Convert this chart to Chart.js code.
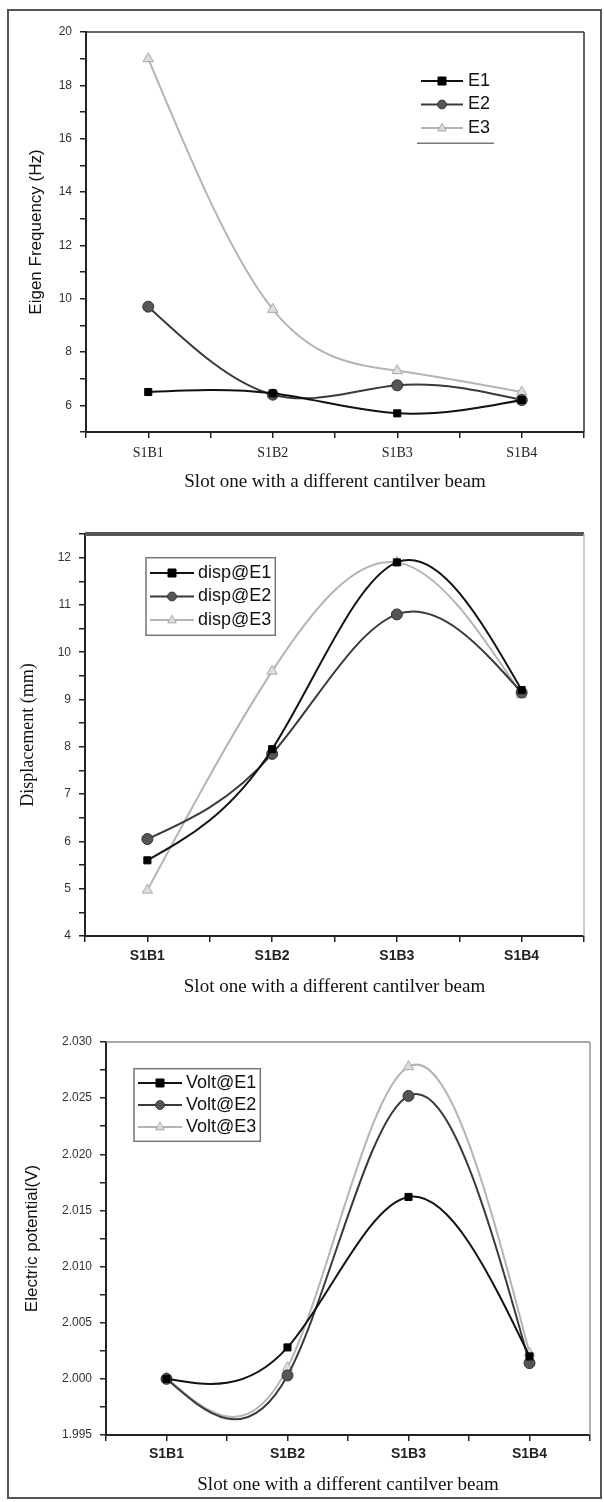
<!DOCTYPE html>
<html>
<head>
<meta charset="utf-8">
<script src="https://cdn.jsdelivr.net/npm/chart.js@4.4.1/dist/chart.umd.min.js"></script>
<style>
body { margin: 0; background: #fff; }
#page { position: relative; width: 604px; height: 1502px; overflow: hidden; }
#frame { position: absolute; left: 7px; top: 9px; width: 591px; height: 1486px; border: 2px solid #555; }
canvas { position: absolute; left: 0; }
</style>
</head>
<body>
<div id="page">
  <div id="frame"></div>
  <canvas id="freq" width="604" height="500" style="top:0px"></canvas>
  <canvas id="disp" width="604" height="500" style="top:500px"></canvas>
  <canvas id="volt" width="604" height="502" style="top:1000px"></canvas>
</div>
<script>
// categories on the x axis
const slots = ['S1B1', 'S1B2', 'S1B3', 'S1B4'];

// eigen frequency (Hz)
const freqE1 = [6.5, 6.45, 5.7, 6.2];
const freqE2 = [9.7, 6.4, 6.75, 6.2];
const freqE3 = [19.0, 9.6, 7.3, 6.5];

// displacement (mm)
const dispE1 = [5.6, 7.95, 11.9, 9.2];
const dispE2 = [6.05, 7.85, 10.8, 9.15];
const dispE3 = [4.97, 9.6, 11.9, 9.1];

// electric potential (V)
const voltE1 = [2.0000, 2.0028, 2.0162, 2.0020];
const voltE2 = [2.0000, 2.0003, 2.0252, 2.0014];
const voltE3 = [2.0001, 2.0010, 2.0278, 2.0023];

const SANS = "'Liberation Sans', Arial, sans-serif";
const SERIF = "'Liberation Serif', 'Times New Roman', serif";

const styleE1 = { borderColor: '#111', borderWidth: 2, pointStyle: 'rect', pointRadius: 5,
    pointBackgroundColor: '#000', pointBorderColor: '#000', pointBorderWidth: 1 };
const styleE2 = { borderColor: '#3a3a3a', borderWidth: 2, pointStyle: 'circle', pointRadius: 5.5,
    pointBackgroundColor: '#555', pointBorderColor: '#333', pointBorderWidth: 1 };
const styleE3 = { borderColor: '#b4b4b4', borderWidth: 2, pointStyle: 'triangle', pointRadius: 6,
    pointBackgroundColor: '#dcdcdc', pointBorderColor: '#aaa', pointBorderWidth: 1 };

function series(label, values, style) {
    return Object.assign({ label: label, data: values.map((v, i) => ({ x: i + 1, y: v })) }, style);
}

function drawMarker(ctx, shape, x, y, r, fill, stroke) {
    ctx.beginPath();
    if (shape === 'rect') {
        ctx.rect(x - r, y - r, 2 * r, 2 * r);
    } else if (shape === 'circle') {
        ctx.arc(x, y, r, 0, Math.PI * 2);
    } else {
        ctx.moveTo(x, y - r);
        ctx.lineTo(x + r * 0.9, y + r * 0.6);
        ctx.lineTo(x - r * 0.9, y + r * 0.6);
        ctx.closePath();
    }
    ctx.fillStyle = fill;
    ctx.fill();
    ctx.lineWidth = 1;
    ctx.strokeStyle = stroke;
    ctx.stroke();
}

// Origin draws these as natural cubic splines; give the line element
// the matching bezier control points (computed from the scaled points)
function setSplinePoints(meta) {
    const pts = meta.data, line = meta.dataset;
    const n = pts.length - 1;
    if (!line || n < 2) return;
    const h = [], m = new Array(n + 1).fill(0);
    for (let i = 0; i < n; i++) h.push(pts[i + 1].x - pts[i].x);
    const a = [], b = [], c = [], r = [];
    for (let i = 1; i < n; i++) {
        a.push(h[i - 1]);
        b.push(2 * (h[i - 1] + h[i]));
        c.push(h[i]);
        r.push(6 * ((pts[i + 1].y - pts[i].y) / h[i] - (pts[i].y - pts[i - 1].y) / h[i - 1]));
    }
    for (let i = 1; i < b.length; i++) {
        const w = a[i] / b[i - 1];
        b[i] -= w * c[i - 1];
        r[i] -= w * r[i - 1];
    }
    for (let i = b.length - 1; i >= 0; i--) {
        m[i + 1] = (r[i] - c[i] * m[i + 2]) / b[i];
    }
    const slope = [];
    for (let i = 0; i < n; i++) {
        slope.push((pts[i + 1].y - pts[i].y) / h[i] - h[i] * (2 * m[i] + m[i + 1]) / 6);
    }
    slope.push((pts[n].y - pts[n - 1].y) / h[n - 1] + h[n - 1] * (m[n - 1] + 2 * m[n]) / 6);
    pts.forEach((p, i) => {
        const hb = i > 0 ? h[i - 1] / 3 : 0;
        const ha = i < n ? h[i] / 3 : 0;
        p.cp1x = p.x - hb;
        p.cp1y = p.y - slope[i] * hb;
        p.cp2x = p.x + ha;
        p.cp2y = p.y + slope[i] * ha;
    });
    line._pointsUpdated = true;
    line._path = undefined;
}

const naturalSpline = {
    id: 'naturalSpline',
    afterDatasetUpdate(chart, args) { setSplinePoints(args.meta); },
    beforeDatasetDraw(chart, args) { setSplinePoints(args.meta); }
};

// top and right edges of the plot box
const boxLines = {
    id: 'boxLines',
    afterDraw(chart, args, o) {
        const ctx = chart.ctx, a = chart.chartArea;
        ctx.save();
        ctx.strokeStyle = o.topColor;
        ctx.lineWidth = o.topWidth;
        ctx.beginPath();
        ctx.moveTo(a.left, a.top);
        ctx.lineTo(a.right, a.top);
        ctx.stroke();
        ctx.strokeStyle = o.rightColor;
        ctx.lineWidth = o.rightWidth;
        ctx.beginPath();
        ctx.moveTo(a.right, a.top);
        ctx.lineTo(a.right, a.bottom);
        ctx.stroke();
        ctx.restore();
    }
};

// legend drawn inside the plot: line with marker, then label
const lineLegend = {
    id: 'lineLegend',
    afterDraw(chart, args, o) {
        const ctx = chart.ctx;
        ctx.save();
        ctx.font = o.font;
        ctx.textBaseline = 'middle';
        let maxW = 0;
        chart.data.datasets.forEach((ds, i) => {
            const y = o.y + i * o.rowHeight;
            ctx.strokeStyle = ds.borderColor;
            ctx.lineWidth = 2;
            ctx.beginPath();
            ctx.moveTo(o.x, y);
            ctx.lineTo(o.x + o.lineLength, y);
            ctx.stroke();
            drawMarker(ctx, ds.pointStyle, o.x + o.lineLength / 2, y, ds.pointRadius * 0.8,
                ds.pointBackgroundColor, ds.pointBorderColor);
            ctx.fillStyle = '#111';
            ctx.fillText(ds.label, o.x + o.lineLength + o.gap, y);
            maxW = Math.max(maxW, ctx.measureText(ds.label).width);
        });
        const left = o.x - 4, right = o.x + o.lineLength + o.gap + maxW + 4;
        const top = o.y - o.rowHeight * 0.65, bottom = o.y + o.rowHeight * 2.65;
        ctx.strokeStyle = '#777';
        if (o.frame === 'box') {
            ctx.lineWidth = 1.5;
            ctx.strokeRect(left, top, right - left, bottom - top);
        } else if (o.frame === 'underline') {
            ctx.lineWidth = 1.5;
            ctx.beginPath();
            ctx.moveTo(left, bottom);
            ctx.lineTo(right, bottom);
            ctx.stroke();
        }
        ctx.restore();
    }
};

function buildChart(id, datasets, y, L) {
    const axisColor = '#222';
    return new Chart(document.getElementById(id), {
        type: 'line',
        data: { datasets: datasets },
        plugins: [naturalSpline, boxLines, lineLegend],
        options: {
            responsive: false,
            animation: false,
            layout: { padding: { top: L.top, right: L.right, left: 0, bottom: 0 } },
            elements: { line: { tension: 0.4, fill: false } },
            plugins: {
                legend: { display: false },
                tooltip: { enabled: false },
                boxLines: L.box,
                lineLegend: L.legend
            },
            scales: {
                x: {
                    type: 'linear', min: 0.5, max: 4.5,
                    afterFit: s => { s.height = L.xHeight; },
                    border: { display: true, color: axisColor, width: 2 },
                    grid: { drawOnChartArea: false, tickLength: 6, color: axisColor, lineWidth: 1.5 },
                    ticks: {
                        stepSize: 0.5, autoSkip: false, maxRotation: 0, padding: L.xTickPad,
                        color: '#222', font: L.xTickFont,
                        callback: v => Number.isInteger(v) ? slots[v - 1] : ''
                    },
                    title: {
                        display: true, text: 'Slot one with a different cantilver beam',
                        color: '#111', font: { family: SERIF, size: 19 },
                        padding: { top: 0, bottom: L.xTitlePad }
                    }
                },
                y: {
                    min: y.min, max: y.max,
                    afterFit: s => { s.width = L.yWidth; },
                    border: { display: true, color: axisColor, width: 2 },
                    grid: { drawOnChartArea: false, tickLength: 6, color: axisColor, lineWidth: 1.5 },
                    ticks: {
                        stepSize: y.step, padding: 8, color: '#333', font: y.font,
                        callback: y.label
                    },
                    title: {
                        display: true, text: y.title, color: '#111', font: y.titleFont,
                        padding: { top: L.yTitlePad, bottom: 0 }
                    }
                }
            }
        }
    });
}

function everyNth(step, digits) {
    return v => {
        const k = Math.round(v / step);
        return Math.abs(k * step - v) < 1e-7 ? v.toFixed(digits) : '';
    };
}

buildChart('freq', [
    series('E1', freqE1, styleE1),
    series('E2', freqE2, styleE2),
    series('E3', freqE3, styleE3)
], {
    min: 5, max: 20, step: 1, label: everyNth(2, 0),
    font: { family: SANS, size: 12 },
    title: 'Eigen Frequency (Hz)', titleFont: { family: SANS, size: 17 }
}, {
    top: 32, right: 20, yWidth: 86, xHeight: 68, xTickPad: 7, xTitlePad: 7, yTitlePad: 26,
    xTickFont: { family: SERIF, size: 14 },
    box: { topColor: '#333', topWidth: 1.5, rightColor: '#333', rightWidth: 1.5 },
    legend: { x: 421, y: 81, rowHeight: 23.5, lineLength: 42, gap: 5, font: '18px ' + SANS, frame: 'underline' }
});

buildChart('disp', [
    series('disp@E1', dispE1, styleE1),
    series('disp@E2', dispE2, styleE2),
    series('disp@E3', dispE3, styleE3)
], {
    min: 4, max: 12.5, step: 0.5, label: everyNth(1, 0),
    font: { family: SANS, size: 12 },
    title: 'Displacement (mm)', titleFont: { family: SERIF, size: 18 }
}, {
    top: 34, right: 20, yWidth: 85, xHeight: 64, xTickPad: 6, xTitlePad: 2, yTitlePad: 17,
    xTickFont: { family: SANS, size: 14, weight: 'bold' },
    box: { topColor: '#555', topWidth: 4, rightColor: '#bbb', rightWidth: 1.5 },
    legend: { x: 150, y: 73, rowHeight: 23.5, lineLength: 44, gap: 4, font: '18px ' + SANS, frame: 'box' }
});

buildChart('volt', [
    series('Volt@E1', voltE1, styleE1),
    series('Volt@E2', voltE2, styleE2),
    series('Volt@E3', voltE3, styleE3)
], {
    min: 1.995, max: 2.030, step: 0.0025, label: everyNth(0.005, 3),
    font: { family: SANS, size: 12 },
    title: 'Electric potential(V)', titleFont: { family: SANS, size: 17 }
}, {
    top: 42, right: 14, yWidth: 106, xHeight: 67, xTickPad: 5, xTitlePad: 6, yTitlePad: 22,
    xTickFont: { family: SANS, size: 14, weight: 'bold' },
    box: { topColor: '#888', topWidth: 1.5, rightColor: '#999', rightWidth: 1.5 },
    legend: { x: 138, y: 83, rowHeight: 22, lineLength: 44, gap: 4, font: '18px ' + SANS, frame: 'box' }
});
</script>
</body>
</html>
